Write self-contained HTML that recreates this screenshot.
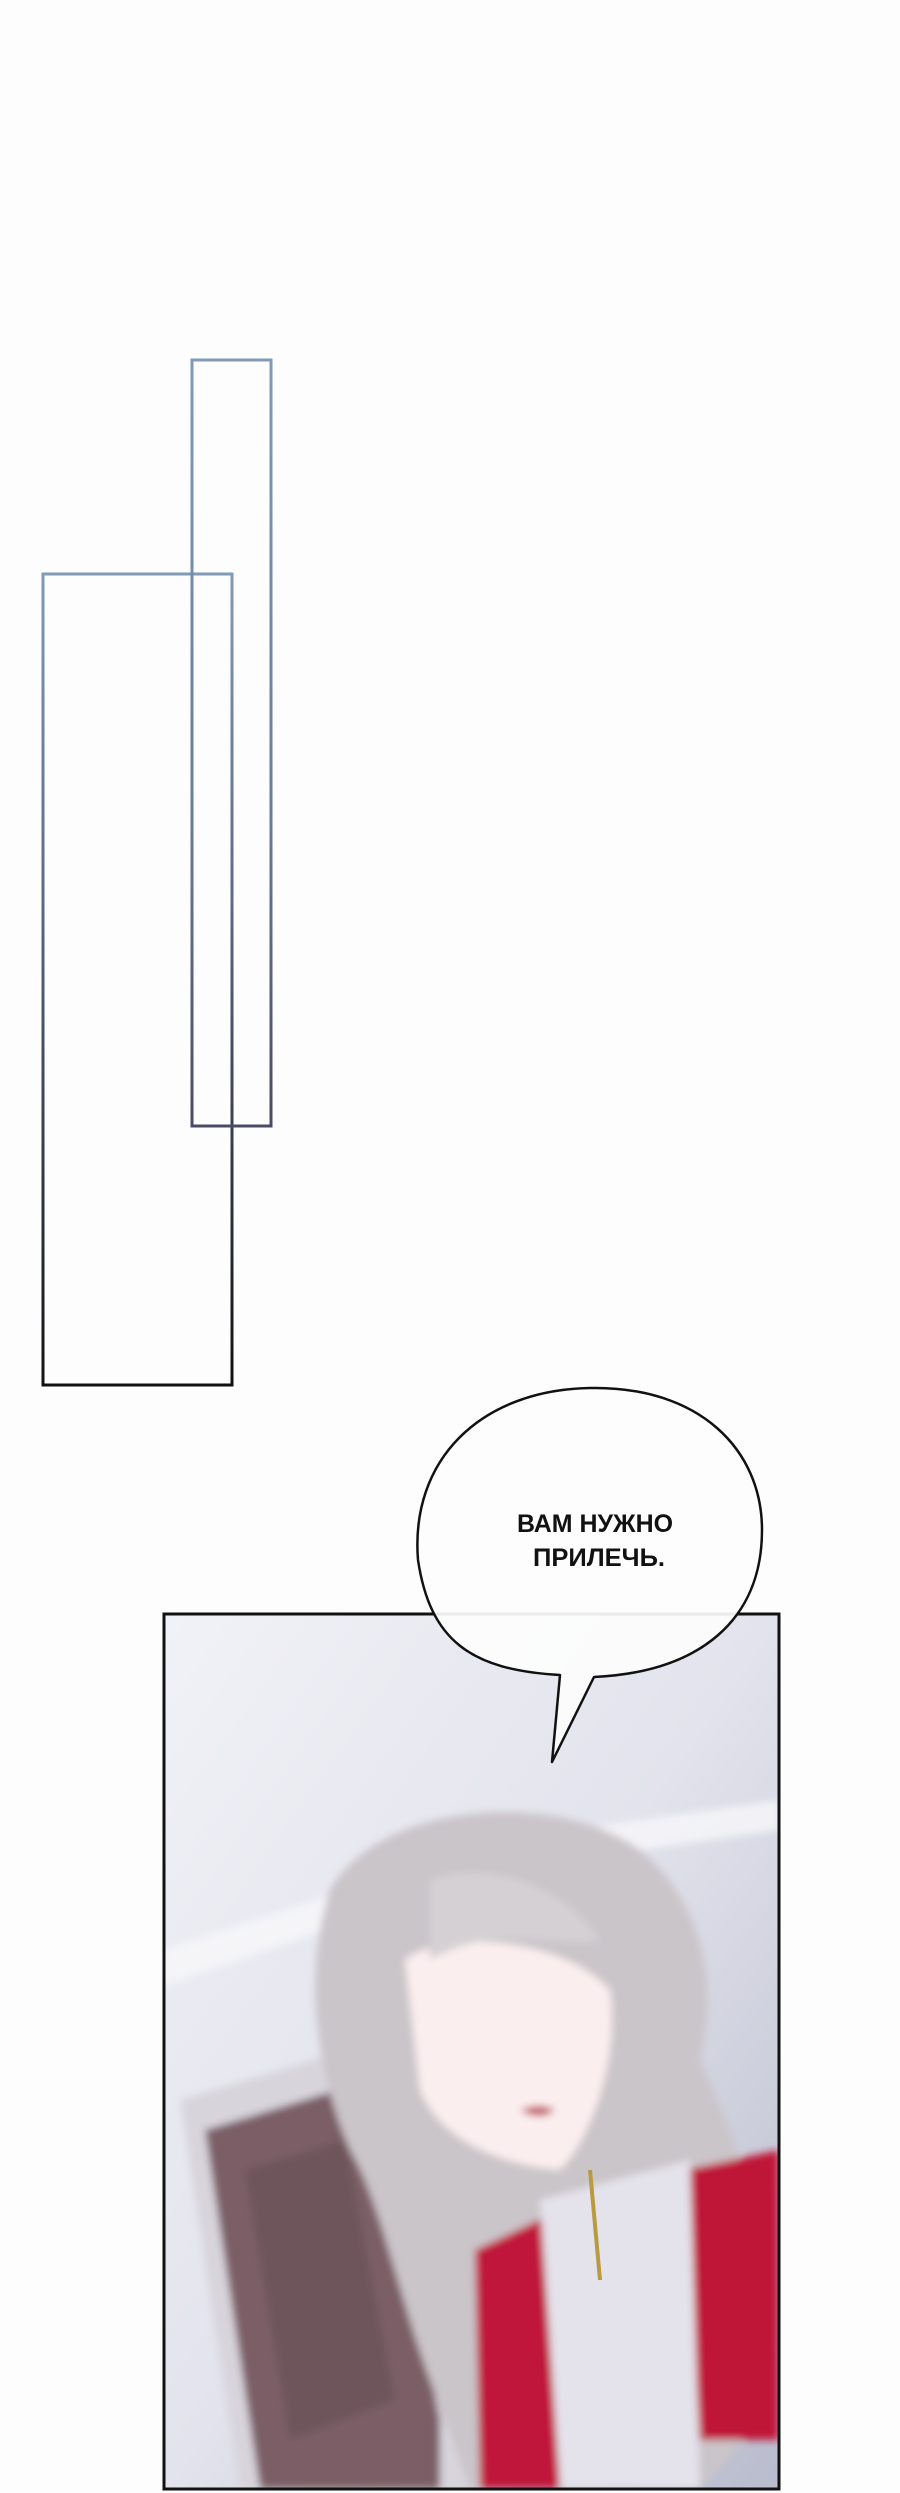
<!DOCTYPE html>
<html><head><meta charset="utf-8"><style>
html,body{margin:0;padding:0;background:#fdfdfd;}
body{width:900px;height:2493px;position:relative;overflow:hidden;}
svg{position:absolute;left:0;top:0;}
</style></head><body>
<svg width="900" height="2493" viewBox="0 0 900 2493" xmlns="http://www.w3.org/2000/svg">
<defs>
<linearGradient id="g1" x1="0" y1="0" x2="0" y2="1">
<stop offset="0" stop-color="#7f9bb8"/><stop offset="0.6" stop-color="#6a7c98"/><stop offset="1" stop-color="#4a4a66"/></linearGradient>
<linearGradient id="g2" x1="0" y1="0" x2="0" y2="1">
<stop offset="0" stop-color="#7f9bb8"/><stop offset="0.4" stop-color="#5c6a88"/><stop offset="1" stop-color="#111"/></linearGradient>
<linearGradient id="bg" x1="0" y1="0" x2="1" y2="1">
<stop offset="0" stop-color="#f1f2f7"/><stop offset="0.5" stop-color="#e2e3ec"/><stop offset="1" stop-color="#b9bccd"/></linearGradient>
<filter id="bl"><feGaussianBlur stdDeviation="4"/></filter>
<clipPath id="pc"><rect x="164" y="1614" width="615" height="875"/></clipPath>
</defs>
<rect x="43" y="574" width="189" height="811" fill="none" stroke="url(#g2)" stroke-width="3"/>
<rect x="192" y="360" width="79" height="766" fill="none" stroke="url(#g1)" stroke-width="3"/>

<g clip-path="url(#pc)">
<rect x="164" y="1614" width="615" height="875" fill="url(#bg)"/>
<g filter="url(#bl)">
<polygon points="164,1950 500,1840 779,1800 779,1830 500,1870 164,1985" fill="#f7f7fa" opacity="0.8"/>
<polygon points="180,2100 380,2040 470,2400 470,2489 240,2489" fill="#d8d4dc"/>
<polygon points="205,2130 370,2080 440,2420 440,2489 260,2489" fill="#7c5f66"/>
<polygon points="245,2170 345,2140 395,2400 290,2440" fill="#6e545c"/>
<path d="M330,1890 C380,1800 560,1790 640,1850 C700,1900 720,1980 700,2060 C740,2150 779,2250 779,2400 L700,2489 L470,2489 L430,2380 C400,2300 380,2200 350,2150 C320,2080 300,1980 330,1890 Z" fill="#cac5c9"/>
<polygon points="684,2170 779,2150 779,2440 700,2440" fill="#bf1238"/>
<polygon points="475,2250 560,2210 570,2489 480,2489" fill="#c0143b"/>
<polygon points="540,2200 690,2160 700,2489 560,2489" fill="#e4e2ea"/>
<path d="M405,1960 C440,1930 560,1935 610,1990 C620,2060 590,2140 560,2170 C500,2165 440,2140 420,2090 Z" fill="#fbeeee"/>
<path d="M520,2110 q20,-8 35,0 q-15,12 -35,0 Z" fill="#c0505c"/>
<path d="M430,1880 C480,1860 560,1880 600,1940 C560,1950 500,1920 430,1960 Z" fill="#d4d0d4"/>
</g>
<path d="M590,2170 L600,2280" stroke="#b89a40" stroke-width="4" fill="none"/>
</g>
<rect x="164" y="1614" width="615" height="875" fill="none" stroke="#111" stroke-width="3"/>

<path d="M560,1675 C470,1670 430,1640 418,1560 C410,1460 480,1390 590,1388 C700,1386 762,1450 762,1530 C762,1620 700,1672 594,1677 L552,1762 Z" fill="#fdfdfd" fill-opacity="0.92" stroke="#111" stroke-width="2.5" stroke-linejoin="round"/>
<text x="595" y="1532" text-anchor="middle" font-family="'Liberation Sans', sans-serif" font-weight="bold" font-size="25" fill="#111" textLength="156" lengthAdjust="spacingAndGlyphs">ВАМ НУЖНО</text>
<text x="599" y="1566" text-anchor="middle" font-family="'Liberation Sans', sans-serif" font-weight="bold" font-size="25" fill="#111" textLength="132" lengthAdjust="spacingAndGlyphs">ПРИЛЕЧЬ.</text>
</svg>
</body></html>
